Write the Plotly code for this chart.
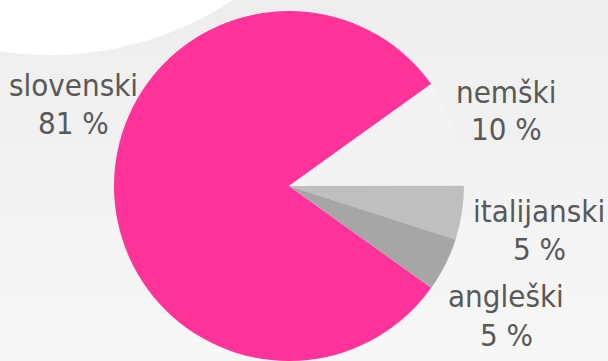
import plotly.graph_objects as go

# ---- data ----
labels = ["slovenski", "nemški", "italijanski", "angleški"]
values = [81, 10, 5, 5]
percent_text = ["81 %", "10 %", "5 %", "5 %"]

# ---- styles ----
colors = ["#FF3399", "#F3F3F3", "#BFBFBF", "#A6A6A6"]
W, H = 608, 361
FONT = "DejaVu Sans Condensed, DejaVu Sans, sans-serif"
TEXT_COLOR = "#595959"
FS = 31

# label centres x and baselines (name line, percent line) in px from top
label_x = [73, 506, 539, 506]
label_base = [(96, 134), (103, 140), (222, 260), (307, 346)]

fig = go.Figure()

# pie geometry: centre (289, 186), radius 175 px
cx, cy, r = 289, 186, 175
fig.add_trace(go.Pie(
    labels=labels,
    values=values,
    sort=False,
    direction="clockwise",
    rotation=125.6,
    marker=dict(colors=colors, line=dict(width=0)),
    textinfo="none",
    hoverinfo="label+percent",
    showlegend=False,
    domain=dict(x=[(cx - r) / W, (cx + r) / W], y=[0, (H - cy + r) / H]),
))

shapes = []
# background vertical gradient using stripes
n = 30
c0, c1 = 238, 247
for i in range(n):
    t = i / (n - 1)
    c = round(c0 + (c1 - c0) * t)
    shapes.append(dict(type="rect", xref="paper", yref="paper",
                       x0=0, x1=1, y0=1 - (i + 1) / n, y1=1 - i / n,
                       fillcolor=f"rgb({c},{c},{c})", line=dict(width=0),
                       layer="below"))
# white circle at top-left
ccx, ccy, cr = 50, 55 - 332, 332
shapes.append(dict(type="circle", xref="paper", yref="paper",
                   x0=(ccx - cr) / W, x1=(ccx + cr) / W,
                   y0=1 - (ccy + cr) / H, y1=1 - (ccy - cr) / H,
                   fillcolor="white", line=dict(width=0), layer="below"))

annotations = []
off = 0.35 * FS
for lab, pt, px, (b1, b2) in zip(labels, percent_text, label_x, label_base):
    for txt, b in ((lab, b1), (pt, b2)):
        annotations.append(dict(
            x=px / W, y=1 - (b - off) / H, xref="paper", yref="paper",
            text=txt, showarrow=False,
            xanchor="center", yanchor="middle", align="center",
            font=dict(family=FONT, size=FS, color=TEXT_COLOR),
        ))

fig.update_layout(
    width=W, height=H,
    margin=dict(l=0, r=0, t=0, b=0),
    paper_bgcolor="#F2F2F2",
    plot_bgcolor="rgba(0,0,0,0)",
    shapes=shapes,
    annotations=annotations,
)

fig.write_html("out.html")
